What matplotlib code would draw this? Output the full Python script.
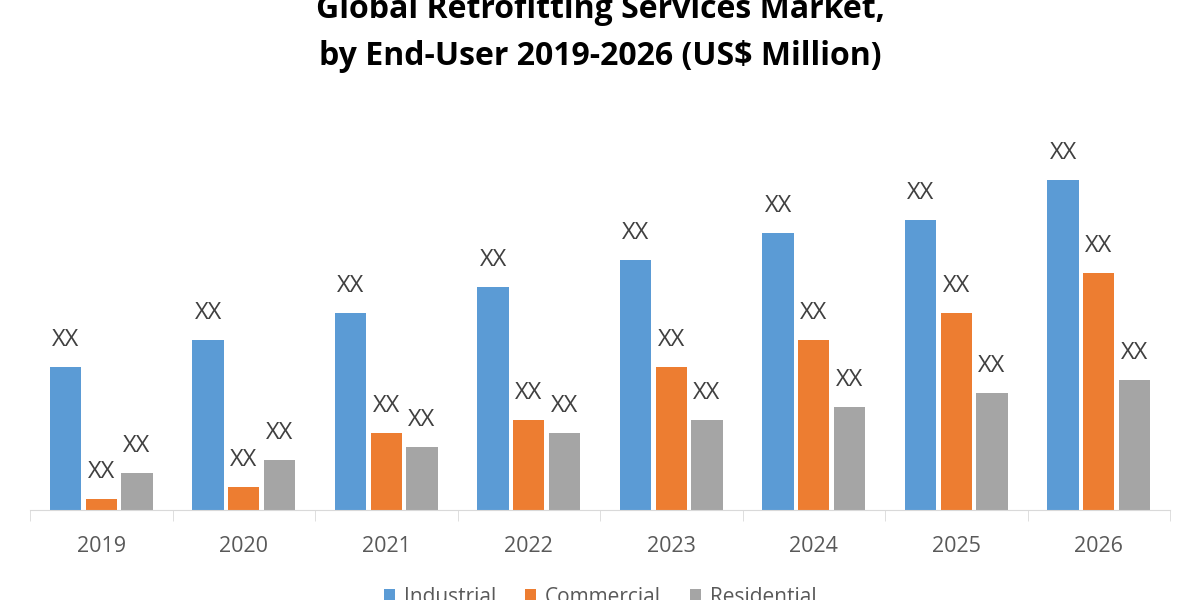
import matplotlib
matplotlib.use("Agg")
from matplotlib import pyplot as plt
import numpy as np

years = ['2019', '2020', '2021', '2022', '2023', '2024', '2025', '2026']
industrial = [143, 170, 197, 223, 250, 277, 290, 330]
commercial = [11, 23, 77, 90, 143, 170, 197, 237]
residential = [37, 50, 63, 77, 90, 103, 117, 130]
series_names = ['Industrial', 'Commercial', 'Residential']
colors = ['#5B9BD5', '#ED7D31', '#A5A5A5']

plt.rcParams['font.family'] = ['Open Sans', 'DejaVu Sans']

fig = plt.figure(figsize=(12, 6), dpi=100)
ax = fig.add_axes([0.025, 0.15, 0.95, 0.633])

x = np.arange(len(years))
w = 0.22
offsets = [-0.25, 0, 0.25]
for vals, off, c, name in zip([industrial, commercial, residential], offsets, colors, series_names):
    bars = ax.bar(x + off, vals, w, color=c, label=name)
    ax.bar_label(bars, labels=['XX'] * len(vals), padding=11, fontsize=17, color='#404040')

ax.set_xlim(-0.5, len(years) - 0.5)
ax.set_ylim(0, 380)
ax.set_xticks(x)
ax.set_xticklabels(years, fontsize=15.5, color='#595959')
ax.tick_params(axis='x', which='major', length=0, pad=19)
ax.set_xticks(np.arange(-0.5, len(years)), minor=True)
ax.tick_params(axis='x', which='minor', length=8, color='#d9d9d9')
ax.set_yticks([])
for s in ['top', 'right', 'left']:
    ax.spines[s].set_visible(False)
ax.spines['bottom'].set_color('#d9d9d9')

fig.text(0.5, 0.985, 'Global Retrofitting Services Market,', ha='center', va='center',
         fontsize=23, fontweight='bold', color='#000000')
fig.text(0.5, 0.906, 'by End-User 2019-2026 (US$ Million)', ha='center', va='center',
         fontsize=23, fontweight='bold', color='#000000')

leg = fig.legend(loc='center', bbox_to_anchor=(0.5, 0.004), ncol=3, frameon=False,
                 fontsize=15, handlelength=0.55, handleheight=0.55, handletextpad=0.4,
                 columnspacing=1.4)
for t in leg.get_texts():
    t.set_color('#595959')

fig.savefig('out.png', dpi=100)
